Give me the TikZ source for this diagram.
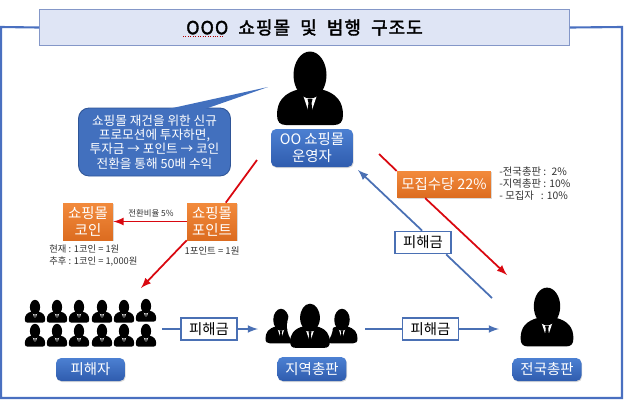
\documentclass[tikz,border=0pt]{standalone}
\usepackage{fontspec}
\setmainfont{Noto Sans CJK KR}
\newfontfamily\titlefont[LetterSpace=6,AutoFakeBold=2]{Noto Sans CJK KR}
\usepackage{xcolor}
\usepackage{tikz}
\usetikzlibrary{arrows,positioning,shadows}
\definecolor{framecol}{HTML}{4A70C0}
\definecolor{titlefill}{HTML}{DFE5F5}
\definecolor{titleline}{HTML}{8497C8}
\definecolor{bubblecol}{HTML}{4270BE}
\definecolor{bubbleline}{HTML}{2F5597}
\definecolor{boxtop}{HTML}{4C80D2}
\definecolor{boxbottom}{HTML}{2F5CAE}
\definecolor{orangetop}{HTML}{F28A3C}
\definecolor{orangebottom}{HTML}{DC6C20}
\definecolor{flowblue}{HTML}{4A70B4}
\definecolor{flowred}{HTML}{D90810}
\definecolor{notegrey}{HTML}{333333}
\tikzset{
  bluebox/.style={rounded corners=3pt,top color=boxtop,bottom color=boxbottom,text=white,
    drop shadow={shadow xshift=.4pt,shadow yshift=-.6pt,opacity=.3},align=center,inner sep=0pt,
    font=\fontsize{8.2}{9.6}\selectfont},
  orangebox/.style={top color=orangetop,bottom color=orangebottom,text=white,
    drop shadow={shadow xshift=.4pt,shadow yshift=-.6pt,opacity=.3},align=center,inner sep=0pt,
    font=\fontsize{8.2}{9.4}\selectfont},
  lossbox/.style={draw=flowblue,line width=1pt,fill=white,inner sep=0pt,minimum width=1.12cm,minimum height=.44cm,
    font=\fontsize{8.2}{9.6}\selectfont},
  notetext/.style={text=notegrey,inner sep=0pt,align=left,font=\fontsize{4.8}{6.2}\selectfont},
  redline/.style={draw=flowred,line width=1pt},
  blueline/.style={draw=flowblue,line width=1pt},
  person/.pic={
    \fill (-10,37) .. controls (-27,41) and (-33,50) .. (-33,63) .. controls (-33,70) and (-30,73) .. (-24,73)
      -- (24,73) .. controls (30,73) and (33,70) .. (33,63) .. controls (33,50) and (27,41) .. (10,37) -- cycle;
    \fill[white] (-8,40) -- (8,40) -- (0,64) -- cycle;
    \fill (-2.5,47) -- (2.5,47) -- (1.5,51) -- (3,62) -- (0,68) -- (-3,62) -- (-1.5,51) -- cycle;
    \fill (0,23) ellipse [x radius=16.5,y radius=23.5];
  }
}
\begin{document}
\begin{tikzpicture}[x=0.02cm,y=-0.02cm]
  \useasboundingbox (0,0) rectangle (625,400);
  % Outer frame and title
  \node (title) at (304.5,27.5) [draw=titleline,fill=titlefill,line width=.6pt,inner sep=0pt,minimum width=10.6cm,minimum height=.72cm]
    {\titlefont\fontsize{10.2}{12}\selectfont\bfseries OOO \ 쇼핑몰 \ 및 \ 범행 \ 구조도};
  \coordinate (frameBL) at (1,398);
  \coordinate (frameBR) at (622,398);
  \draw [framecol,line width=1.2pt] (title.west) -- (1,27) -- (frameBL) -- (frameBR) -- (622,27) -- (title.east);
  \draw [red!70!black,densely dotted,line width=.4pt] (183,36) -- (224,36);
  % People
  \pic at (310,52) {person};
  \pic [scale=.31] at (35,300) {person};
  \pic [scale=.31] at (57,300) {person};
  \pic [scale=.31] at (79,300) {person};
  \pic [scale=.31] at (102,300) {person};
  \pic [scale=.31] at (124,300) {person};
  \pic [scale=.31] at (146,299) {person};
  \pic [scale=.31] at (35,324) {person};
  \pic [scale=.31] at (57,324) {person};
  \pic [scale=.31] at (79,324) {person};
  \pic [scale=.31] at (102,324) {person};
  \pic [scale=.31] at (124,324) {person};
  \pic [scale=.31] at (146,324) {person};
  \pic [scale=.47] at (281,309) {person};
  \pic [scale=.47] at (342,309) {person};
  \fill [white] (310,326) ellipse [x radius=23,y radius=24];
  \pic [scale=.6] at (310,304) {person};
  \pic [scale=.8] at (547,288) {person};
  % Speech bubble
  \node (bubble) at (154.5,142) [draw=bubbleline,fill=bubblecol,line width=.5pt,rounded corners=6pt,text=white,align=center,
    inner sep=0pt,minimum width=3.04cm,minimum height=1.36cm,font=\fontsize{7.2}{8.1}\selectfont]
    {쇼핑몰 재건을 위한 신규\\프로모션에 투자하면,\\투자금 → 포인트 → 코인\\전환을 통해 50배 수익};
  \coordinate (bubbleTip) at (268,87);
  \fill [bubblecol] (168,109) -- (bubbleTip) -- (205,109) -- cycle;
  % Boxes
  \node (mall) at (312,148) [bluebox,minimum width=1.64cm,minimum height=.76cm] {OO 쇼핑몰\\운영자};
  \node (victim) at (90.5,369.5) [bluebox,minimum width=1.38cm,minimum height=.46cm] {피해자};
  \node (region) at (312,369) [bluebox,minimum width=1.38cm,minimum height=.48cm] {지역총판};
  \node (nation) at (547,369.5) [bluebox,minimum width=1.38cm,minimum height=.46cm] {전국총판};
  \node (recruit) at (444,184.5) [orangebox,minimum width=1.88cm,minimum height=.53cm] {모집수당 22\%};
  \node (point) at (212,221.5) [orangebox,minimum width=1cm,minimum height=.74cm] {쇼핑몰\\포인트};
  \node (coin) at (88,221.5) [orangebox,minimum width=1cm,minimum height=.74cm] {쇼핑몰\\코인};
  \node (lossA) at (209,329) [lossbox] {피해금};
  \node (lossB) at (430.5,329) [lossbox] {피해금};
  \node (lossC) at (423,242.5) [lossbox] {피해금};
  % Notes
  \node (rateNote) at (151,213) [notetext] {전환비율 5\%};
  \node (pointNote) at (212,251) [notetext,font=\fontsize{5.4}{6.2}\selectfont] {1포인트 = 1원};
  \node (coinNote) at (49,255.5) [notetext,anchor=west,font=\fontsize{5.3}{6.6}\selectfont] {현재 : 1코인 = 1원\\추후 : 1코인 = 1,000원};
  \node (shareNote) at (499,184) [notetext,anchor=west,font=\fontsize{5.9}{6.8}\selectfont]
    {-전국총판 : \ 2\%\\-지역총판 : 10\%\\- 모집자 \ \ : 10\%};
  % Red flows
  \coordinate (redA) at (257,160);
  \coordinate (redB) at (141,288);
  \coordinate (redC) at (379,154);
  \coordinate (redD) at (507,275);
  \draw [redline] (redA) -- (point);
  \draw [redline,-latex] (point.south west) -- (redB);
  \draw [redline,-latex] (point) -- (coin);
  \draw [redline] (redC) -- (recruit.north west);
  \draw [redline,-latex] ([xshift=.57cm]recruit.south west) -- (redD);
  % Blue flows
  \coordinate (blueA) at (162,329);
  \coordinate (blueB) at (258,329);
  \coordinate (blueC) at (365,329);
  \coordinate (blueD) at (499,329);
  \coordinate (blueE) at (492,298);
  \coordinate (blueF) at (358,170);
  \draw [blueline] (blueA) -- (lossA);
  \draw [blueline,-latex] (lossA) -- (blueB);
  \draw [blueline] (blueC) -- (lossB);
  \draw [blueline,-latex] (lossB) -- (blueD);
  \draw [blueline] (blueE) -- ([xshift=1.04cm]lossC.south west);
  \draw [blueline,-latex] ([xshift=.56cm]lossC.north west) -- (blueF);
\end{tikzpicture}
\end{document}
